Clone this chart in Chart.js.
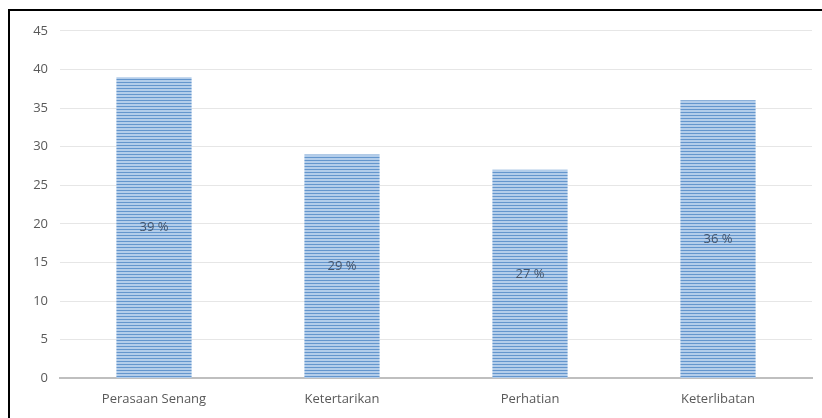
<!DOCTYPE html>
<html>
<head>
<meta charset="utf-8">
<script src="https://cdn.jsdelivr.net/npm/chart.js@4"></script>
<style>
  html, body { margin: 0; padding: 0; background: #fff; }
  body { width: 822px; height: 418px; overflow: hidden; position: relative; }
  #frame {
    position: absolute; left: 8px; top: 9px; right: -4px; bottom: -4px;
    border-left: 2px solid #000; border-top: 2px solid #000;
  }
  #wrap { position: absolute; left: 0; top: 0; width: 812px; height: 411px; }
</style>
</head>
<body>
<div id="frame"><div id="wrap"><canvas id="barChart"></canvas></div></div>
<script>
const categories = ["Perasaan Senang", "Ketertarikan", "Perhatian", "Keterlibatan"];
const values = [39, 29, 27, 36];
const valueLabels = ["39 %", "29 %", "27 %", "36 %"];
const yTicks = [0, 5, 10, 15, 20, 25, 30, 35, 40, 45];

const FONT = "'Open Sans', sans-serif";

// striped fill like the original (horizontal blue lines)
function makeStripes() {
    const c = document.createElement("canvas");
    c.width = 4; c.height = 3;
    const g = c.getContext("2d");
    g.fillStyle = "#b3cdea";
    g.fillRect(0, 0, 4, 3);
    g.fillStyle = "#6496cd";
    g.fillRect(0, 2, 4, 1);
    return g.createPattern(c, "repeat");
}

// draw "xx %" in the middle of each bar
const midLabels = {
    id: "midLabels",
    afterDatasetsDraw(chart) {
        const { ctx } = chart;
        const meta = chart.getDatasetMeta(0);
        ctx.save();
        ctx.font = "13px " + FONT;
        ctx.fillStyle = "#44546a";
        ctx.textAlign = "center";
        ctx.textBaseline = "middle";
        meta.data.forEach((bar, i) => {
            const mid = (bar.y + bar.base) / 2;
            ctx.fillText(valueLabels[i], bar.x, mid);
        });
        ctx.restore();
    }
};

const ctx = document.getElementById("barChart").getContext("2d");
const barChart = new Chart(ctx, {
    type: "bar",
    data: {
        labels: categories,
        datasets: [{
            data: values,
            backgroundColor: makeStripes(),
            borderWidth: 0,
            categoryPercentage: 0.4,
            barPercentage: 1.0
        }]
    },
    options: {
        responsive: true,
        maintainAspectRatio: false,
        animation: false,
        layout: { padding: { top: 8, right: 10, left: 0, bottom: 2 } },
        plugins: {
            legend: { display: false },
            tooltip: { enabled: false }
        },
        scales: {
            x: {
                grid: { display: false, drawTicks: false },
                border: { color: "#bfbfbf", width: 2 },
                ticks: { color: "#595959", font: { family: FONT, size: 13 }, padding: 13 }
            },
            y: {
                min: 0, max: 45,
                afterBuildTicks(scale) { scale.ticks = yTicks.map(v => ({ value: v })); },
                afterFit(scale) { scale.width = 50; },
                grid: { color: "#e6e6e6", drawTicks: false },
                border: { display: false },
                ticks: { color: "#595959", font: { family: FONT, size: 13 }, padding: 12 }
            }
        }
    },
    plugins: [midLabels]
});
</script>
</body>
</html>
